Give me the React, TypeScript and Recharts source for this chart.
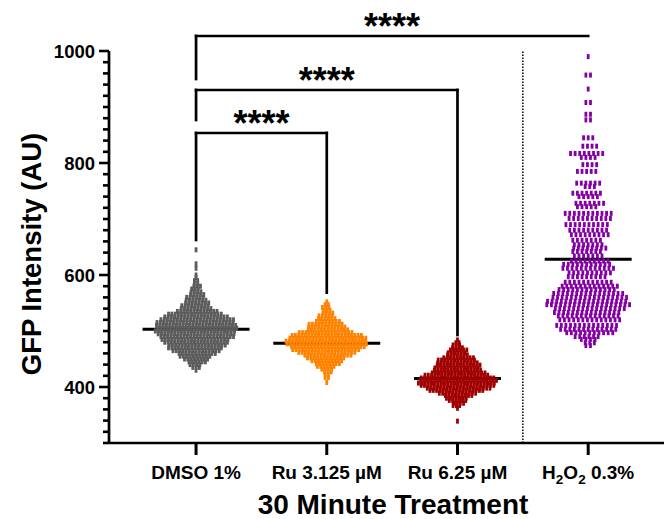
import React from 'react';
import { ScatterChart, Scatter, XAxis, YAxis, ReferenceLine } from 'recharts';

// ---------- data ----------
const categories = ['DMSO 1%', 'Ru 3.125 µM', 'Ru 6.25 µM', 'H2O2 0.3%'];
const groupColors = ['#5c5c5c', '#ff8200', '#a00000', '#8400a4'];
const groupMeans = [503, 478, 415, 628];
const majorTicks = [400, 600, 800, 1000];
const significance = ['****', '****', '****'];

// swarm rows: [value, number of points at that value]
const dmsoRows: [number, number][] = [
  [645, 1], [620, 1], [612, 1], [600, 1], [595, 1], [590, 2], [585, 2], [580, 3], [575, 3],
  [570, 4], [565, 5], [560, 6], [555, 7], [550, 8], [545, 9], [540, 10], [535, 13], [530, 17],
  [525, 20], [520, 23], [515, 24], [510, 25], [505, 25], [500, 25], [495, 24], [490, 23],
  [485, 21], [480, 20], [475, 18], [470, 17], [465, 15], [460, 12], [455, 10], [450, 8],
  [445, 6], [440, 4], [435, 3], [430, 1],
];
const ru3Rows: [number, number][] = [
  [552, 1], [547, 2], [542, 3], [537, 3], [532, 4], [527, 5], [522, 6], [517, 8], [512, 11],
  [507, 12], [502, 13], [497, 17], [492, 22], [487, 24], [482, 25], [477, 25], [472, 23],
  [467, 21], [462, 18], [457, 15], [452, 12], [447, 10], [442, 8], [437, 6], [432, 4],
  [427, 3], [422, 2], [417, 2], [408, 1],
];
const ru6Rows: [number, number][] = [
  [484, 1], [479, 2], [475, 3], [470, 4], [466, 6], [461, 6], [457, 7], [452, 10], [448, 12],
  [443, 13], [439, 14], [434, 14], [430, 15], [425, 17], [421, 20], [416, 23], [412, 24],
  [407, 24], [403, 23], [398, 20], [394, 17], [389, 12], [385, 9], [380, 7], [376, 6],
  [371, 4], [367, 3], [362, 1], [339, 1],
];
const h2o2Rows: [number, number][] = [
  [990, 1], [957, 2], [932, 1], [908, 2], [887, 2], [877, 2], [845, 3], [830, 4], [817, 8],
  [810, 4], [797, 4], [785, 5], [764, 6], [758, 3], [746, 7], [740, 5], [728, 7], [722, 5],
  [710, 11], [701, 10], [690, 10], [680, 9], [672, 9], [662, 7], [654, 7], [648, 8], [642, 7],
  [634, 7], [625, 9], [619, 11], [612, 12], [604, 10], [597, 9], [587, 11], [580, 13],
  [574, 13], [567, 16], [560, 17], [553, 18], [547, 19], [540, 16], [533, 15], [527, 14],
  [520, 14], [510, 14], [503, 13], [497, 11], [490, 6], [485, 4], [479, 3], [474, 2],
];

// ---------- layout ----------
const W = 664;
const H = 519;
const PLOT_LEFT = 109;
const PLOT_TOP = 51;
const PLOT_BOTTOM = 443;
const X_DOMAIN: [number, number] = [-0.666, 3.58];
const Y_DOMAIN: [number, number] = [300, 1000];
const PX_PER_X = (W - PLOT_LEFT) / (X_DOMAIN[1] - X_DOMAIN[0]);
const FONT = "'Liberation Sans', Arial, Helvetica, sans-serif";

const yTicks: number[] = [];
for (let v = Y_DOMAIN[0]; v <= Y_DOMAIN[1]; v += 20) yTicks.push(v);

const PHASES = [0, 0.34, -0.34];
function buildSwarm(rows: [number, number][], group: number, pitchPx: number) {
  const pts: { x: number; y: number }[] = [];
  rows.forEach(([v, n], r) => {
    const phase = n > 2 ? PHASES[r % 3] * pitchPx : 0;
    for (let k = 0; k < n; k++) {
      const offPx = (k - (n - 1) / 2) * pitchPx + phase;
      pts.push({ x: group + offPx / PX_PER_X, y: v });
    }
  });
  return pts;
}

const swarms = [
  buildSwarm(dmsoRows, 0, 3.3),
  buildSwarm(ru3Rows, 1, 3.3),
  buildSwarm(ru6Rows, 2, 3.3),
  buildSwarm(h2o2Rows, 3, 4.6),
];
const meanHalfWidthPx = [53.5, 53.5, 43.5, 43.5];

const makeShape = (color: string) => (p: any) => (
  <rect x={p.cx - 1.4} y={p.cy - 2.5} width={2.8} height={5} fill={color} />
);

const YTick = (p: any) => {
  const { x, y, payload } = p;
  const v = payload.value;
  const major = majorTicks.includes(v);
  const len = major ? 10 : 6;
  return (
    <g>
      <line x1={x - len} x2={x} y1={y} y2={y} stroke="#000" strokeWidth={2.6} />
      {major && (
        <text x={x - len - 4} y={y} dy="0.36em" textAnchor="end" fontFamily={FONT}
          fontWeight="bold" fontSize={18.5} fill="#000">{v}</text>
      )}
    </g>
  );
};

const XTick = (p: any) => {
  const { x, y, payload } = p;
  const i = payload.value as number;
  const label = categories[i];
  return (
    <g>
      <line x1={x} x2={x} y1={y} y2={y + 12} stroke="#000" strokeWidth={3} />
      {label === 'H2O2 0.3%' ? (
        <text x={x} y={y + 36} textAnchor="middle" fontFamily={FONT} fontWeight="bold" fontSize={19} fill="#000">
          <tspan>H</tspan>
          <tspan fontSize={13.5} dy={5}>2</tspan>
          <tspan dy={-5}>O</tspan>
          <tspan fontSize={13.5} dy={5}>2</tspan>
          <tspan dy={-5}>{' 0.3%'}</tspan>
        </text>
      ) : (
        <text x={x} y={y + 36} textAnchor="middle" fontFamily={FONT} fontWeight="bold" fontSize={19} fill="#000">
          {label}
        </text>
      )}
    </g>
  );
};

const XTitle = () => (
  <text x={393} y={513.5} textAnchor="middle" fontFamily={FONT} fontWeight="bold" fontSize={28} fill="#000">
    30 Minute Treatment
  </text>
);
const YTitle = () => (
  <text x={41} y={254} transform="rotate(-90, 41, 254)" textAnchor="middle" fontFamily={FONT}
    fontWeight="bold" fontSize={27.5} fill="#000">
    GFP Intensity (AU)
  </text>
);

const starLabel = (text: string) => (p: any) => {
  const vb = p.viewBox || {};
  return (
    <text x={vb.x + vb.width / 2} y={vb.y + 3} textAnchor="middle" fontFamily={FONT}
      fontWeight="bold" fontSize={36} fill="#000">{text}</text>
  );
};

// bracket levels (values on the y scale)
const brackets = [
  { to: 3, top: 1026.8, leftEnd: 950, rightEnd: null as number | null },
  { to: 2, top: 930.4, leftEnd: 876.8, rightEnd: 492.9 as number | null },
  { to: 1, top: 853.6, leftEnd: 662.5, rightEnd: 568.4 as number | null },
];

export default function App() {
  return (
    <div style={{ position: 'absolute', left: 0, top: 0, width: W, height: H, background: '#fff' }}>
      <ScatterChart width={W} height={H} margin={{ top: PLOT_TOP, right: 0, bottom: 0, left: 0 }}>
        <XAxis type="number" dataKey="x" domain={X_DOMAIN} ticks={[0, 1, 2, 3]} interval={0}
          allowDataOverflow tickSize={0} tickMargin={0} tickLine={false} height={H - PLOT_BOTTOM}
          axisLine={{ stroke: '#000', strokeWidth: 2.7 }} tick={(p: any) => <XTick {...p} />}
          label={<XTitle />} />
        <YAxis type="number" dataKey="y" domain={Y_DOMAIN} ticks={yTicks} interval={0}
          allowDataOverflow tickSize={0} tickMargin={0} tickLine={false} width={PLOT_LEFT}
          axisLine={{ stroke: '#000', strokeWidth: 2.7 }} tick={(p: any) => <YTick {...p} />}
          label={<YTitle />} />
        {swarms.map((d, i) => (
          <Scatter key={i} data={d} shape={makeShape(groupColors[i])} isAnimationActive={false} />
        ))}
        {groupMeans.map((m, i) => (
          <ReferenceLine key={'m' + i} ifOverflow="visible"
            segment={[{ x: i - meanHalfWidthPx[i] / PX_PER_X, y: m }, { x: i + meanHalfWidthPx[i] / PX_PER_X, y: m }]}
            stroke="#000" strokeWidth={3} />
        ))}
        <ReferenceLine ifOverflow="visible" segment={[{ x: 2.5, y: Y_DOMAIN[0] }, { x: 2.5, y: Y_DOMAIN[1] }]}
          stroke="#000" strokeWidth={1.5} strokeDasharray="1.5 1.5" />
        {brackets.map((b, i) => (
          <React.Fragment key={'b' + i}>
            <ReferenceLine ifOverflow="visible" segment={[{ x: 0, y: b.top }, { x: b.to, y: b.top }]}
              stroke="#000" strokeWidth={2.7} strokeLinecap="square" label={starLabel(significance[i])} />
            <ReferenceLine ifOverflow="visible" segment={[{ x: 0, y: b.top }, { x: 0, y: b.leftEnd }]}
              stroke="#000" strokeWidth={2.7} strokeLinecap="square" />
            {b.rightEnd !== null && (
              <ReferenceLine ifOverflow="visible" segment={[{ x: b.to, y: b.top }, { x: b.to, y: b.rightEnd }]}
                stroke="#000" strokeWidth={2.7} strokeLinecap="square" />
            )}
          </React.Fragment>
        ))}
      </ScatterChart>
    </div>
  );
}
